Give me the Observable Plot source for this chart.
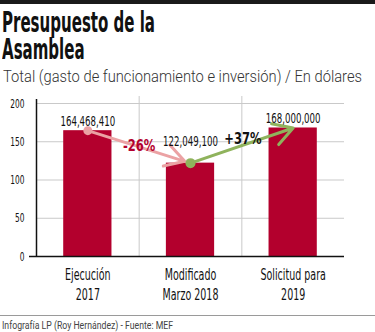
<!DOCTYPE html>
<html><head><meta charset="utf-8">
<script src="https://cdn.jsdelivr.net/npm/d3@7"></script>
<script src="https://cdn.jsdelivr.net/npm/@observablehq/plot@0.6"></script>
<style>
body{margin:0;background:#fff;width:375px;height:332px;overflow:hidden;position:relative;}
#topbar{position:absolute;left:0;top:0;width:375px;height:4px;background:#1a1a1a;}
#title{position:absolute;left:2px;top:10px;font-family:"Liberation Sans Narrow","DejaVu Sans Condensed",sans-serif;font-weight:bold;font-size:28px;line-height:26.5px;color:#111;transform-origin:0 0;white-space:nowrap;}
#title span{display:inline-block;}
#subtitle{position:absolute;left:3px;top:67px;font-family:Roboto,sans-serif;font-weight:300;font-size:16px;color:#333;white-space:nowrap;transform-origin:0 0;}
#chart{position:absolute;left:0;top:90px;}
#rule{position:absolute;left:0;top:315px;width:375px;height:1px;background:#9a9a9a;}
#caption{position:absolute;left:2px;top:319px;font-family:Roboto,sans-serif;font-size:10.5px;color:#444;white-space:nowrap;transform-origin:0 0;}
</style></head>
<body>
<div id="topbar"></div>
<div id="title"><span id="t1">Presupuesto de la</span><br><span>Asamblea</span></div>
<div id="subtitle">Total (gasto de funcionamiento e inversión) / En dólares</div>
<div id="chart"></div>
<div id="rule"></div>
<div id="caption">Infografía LP (Roy Hernández) - Fuente: MEF</div>
<script>
const categories = ["Ejecución\n2017", "Modificado\nMarzo 2018", "Solicitud para\n2019"];
const values = [164468410, 122049100, 168000000];
const yTicks = [0, 50, 100, 150, 200];
const changeLabels = ["-26%", "+37%"];

const red = "#b3002d", pink = "#eba2a4", green = "#8fb35c", grid = "#c9c9c9";
const cond = "'Liberation Sans Narrow','DejaVu Sans Condensed',sans-serif";
const W = 375, H = 222, mL = 36, mR = 31, mT = 13, mB = 56;
const step = (W - mL - mR) / categories.length;

const data = categories.map((c, i) => ({cat: c, value: values[i] / 1e6, label: d3.format(",")(values[i])}));
const pairs = changeLabels.map((l, i) => ({a: data[i], b: data[i + 1], label: l, mid: (data[i].value + data[i + 1].value) / 2}));

const chart = Plot.plot({
  width: W, height: H, marginLeft: mL, marginRight: mR, marginTop: mT, marginBottom: mB,
  style: {fontFamily: cond, background: "transparent"},
  x: {domain: categories, paddingInner: 0.53, paddingOuter: 0.265, round: false, axis: null},
  y: {domain: [0, 200], axis: null},
  marks: [
    Plot.ruleY(yTicks.filter(t => t > 0), {y: d => d, stroke: grid, strokeWidth: 1}),
    Plot.ruleX(categories.slice(1), {x: d => d, dx: -step / 2, stroke: grid, strokeWidth: 1, insetTop: -7}),
    Plot.barY(data, {x: "cat", y: "value", fill: red}),
    Plot.ruleX([categories[0]], {x: d => d, dx: -step / 2, stroke: "#111", strokeWidth: 1.5, insetTop: -4}),
    Plot.ruleY([0], {y: d => d, stroke: "#111", strokeWidth: 1.5, insetLeft: -7}),
    Plot.text(yTicks, {y: d => d, text: d => String(d), frameAnchor: "left", dx: -12, textAnchor: "end", fontSize: 12.5, fill: "#111"}),
    Plot.text(data, {x: "cat", text: "cat", frameAnchor: "bottom", dy: 9, lineAnchor: "top", lineHeight: 1.25, fontSize: 16, fill: "#111"}),
    Plot.arrow([pairs[0]], {x1: d => d.a.cat, y1: d => d.a.value, x2: d => d.b.cat, y2: d => d.b.value, stroke: pink, strokeWidth: 3, headLength: 11, insetEnd: 6}),
    Plot.arrow([pairs[1]], {x1: d => d.a.cat, y1: d => d.a.value, x2: d => d.b.cat, y2: d => d.b.value, stroke: green, strokeWidth: 3, headLength: 11, insetEnd: 0}),
    Plot.dot([data[0]], {x: "cat", y: "value", r: 4.5, fill: pink}),
    Plot.dot([data[1]], {x: "cat", y: "value", r: 5, fill: green}),
    Plot.text(data.filter((d, i) => i !== 1), {x: "cat", y: "value", text: "label", lineAnchor: "bottom", dy: -5, fontSize: 14.5, fill: "#111"}),
    Plot.text(data.filter((d, i) => i === 1), {x: "cat", y: "value", text: "label", lineAnchor: "bottom", dy: -17, fontSize: 14.5, fill: "#111"}),
    Plot.text([pairs[0]], {x: d => d.b.cat, y: "mid", text: "label", dx: -step / 2, dy: -1.5, fontSize: 16, fontWeight: "bold", fill: red}),
    Plot.text([pairs[1]], {x: d => d.b.cat, y: "mid", text: "label", dx: -step / 2 + 1, dy: -7, fontSize: 16, fontWeight: "bold", fill: "#111"})
  ]
});
document.getElementById("chart").appendChild(chart);

// condense SVG text horizontally (reference uses a condensed face)
chart.querySelectorAll("text").forEach(t => {
  const g = t.closest("g");
  const bold = g && g.getAttribute("font-weight") === "bold";
  const squeeze = bold ? 0.8 : 0.66;
  const spans = t.querySelectorAll("tspan");
  const leaves = spans.length ? Array.from(spans) : [t];
  leaves.forEach(el => {
    const len = el.getComputedTextLength();
    if (len > 0) {
      el.setAttribute("textLength", (len * squeeze).toFixed(2));
      el.setAttribute("lengthAdjust", "spacingAndGlyphs");
    }
  });
});

function fit(el, target) {
  const w = el.getBoundingClientRect().width;
  if (w > 0) el.style.transform = `scaleX(${target / w})`;
}
const t1 = document.getElementById("t1");
const tw = t1.getBoundingClientRect().width;
document.getElementById("title").style.transform = `scaleX(${153 / tw})`;
fit(document.getElementById("subtitle"), 359);
fit(document.getElementById("caption"), 171);
</script>
</body></html>
